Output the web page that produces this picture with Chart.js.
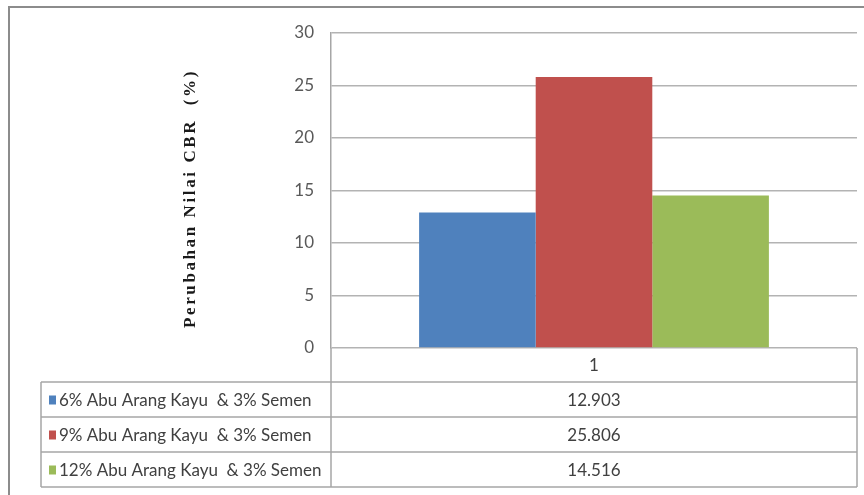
<!DOCTYPE html>
<html>
<head>
<meta charset="utf-8">
<script src="https://cdn.jsdelivr.net/npm/chart.js@4/dist/chart.umd.min.js"></script>
<style>
  html, body { margin: 0; padding: 0; background: #ffffff; }
  canvas { display: block; }
</style>
</head>
<body>
<canvas id="cbr" width="864" height="495"></canvas>
<script>
// Chart values
const categories = ['1'];
const seriesNames = [
  '6% Abu Arang Kayu  & 3% Semen',
  '9% Abu Arang Kayu  & 3% Semen',
  '12% Abu Arang Kayu  & 3% Semen'
];
const abu6 = [12.903];
const abu9 = [25.806];
const abu12 = [14.516];
const seriesColors = ['#4f81bd', '#c0504d', '#9bbb59'];
const yTitle = 'Perubahan Nilai CBR  (%)';

const seriesValues = [abu6, abu9, abu12];
const FONT = 'Lato, "Open Sans", sans-serif';
const LINE = '#a6a6a6';

// Outer frame drawn behind everything
const framePlugin = {
  id: 'frame',
  beforeDraw(chart) {
    const ctx = chart.ctx;
    ctx.save();
    ctx.fillStyle = '#ffffff';
    ctx.fillRect(0, 0, chart.width, chart.height);
    ctx.strokeStyle = '#8c8c8c';
    ctx.lineWidth = 2;
    ctx.beginPath();
    ctx.moveTo(9, chart.height);
    ctx.lineTo(9, 7);
    ctx.lineTo(chart.width, 7);
    ctx.stroke();
    ctx.restore();
  }
};

// Data table under the plot plus the rotated axis title
const tablePlugin = {
  id: 'dataTable',
  afterDraw(chart) {
    const ctx = chart.ctx;
    const area = chart.chartArea;
    const xs = chart.scales.x;
    const tableLeft = 41;
    const headerH = 34;
    const rowH = 35;
    const top = area.bottom;
    const rowsTop = top + headerH;
    const bottom = rowsTop + rowH * seriesNames.length;

    ctx.save();
    ctx.strokeStyle = LINE;
    ctx.lineWidth = 1.5;
    ctx.beginPath();
    // horizontal rules
    for (let i = 0; i <= seriesNames.length; i++) {
      const y = rowsTop + rowH * i;
      ctx.moveTo(tableLeft, y);
      ctx.lineTo(area.right, y);
    }
    // verticals
    ctx.moveTo(tableLeft, rowsTop);
    ctx.lineTo(tableLeft, bottom);
    ctx.moveTo(area.left, top);
    ctx.lineTo(area.left, bottom);
    ctx.moveTo(area.right, top);
    ctx.lineTo(area.right, bottom);
    ctx.stroke();

    ctx.font = '17px ' + FONT;
    ctx.textBaseline = 'middle';
    ctx.fillStyle = '#404040';

    // category header
    categories.forEach((c, ci) => {
      const cx = xs.getPixelForValue(ci);
      ctx.textAlign = 'center';
      ctx.fillText(c, cx, top + headerH / 2 + 1);
      seriesValues.forEach((vals, si) => {
        ctx.fillText(vals[ci].toFixed(3), cx, rowsTop + rowH * si + rowH / 2 + 1);
      });
    });

    // row labels with legend keys
    seriesNames.forEach((name, si) => {
      const cy = rowsTop + rowH * si + rowH / 2;
      ctx.fillStyle = seriesColors[si];
      ctx.fillRect(49, cy - 4, 7, 9);
      ctx.fillStyle = '#404040';
      ctx.textAlign = 'left';
      ctx.fillText(name, 59, cy + 1);
    });

    // rotated y-axis title
    ctx.translate(191, (area.top + area.bottom) / 2 + 8);
    ctx.rotate(-Math.PI / 2);
    ctx.font = 'bold 17px "Liberation Serif", "DejaVu Serif", serif';
    ctx.letterSpacing = '2.6px';
    ctx.fillStyle = '#1a1a1a';
    ctx.textAlign = 'center';
    ctx.fillText(yTitle, 0, 0);
    ctx.restore();
  }
};

new Chart(document.getElementById('cbr'), {
  type: 'bar',
  data: {
    labels: categories,
    datasets: seriesNames.map((name, i) => ({
      label: name,
      data: seriesValues[i],
      backgroundColor: seriesColors[i],
      borderWidth: 0,
      categoryPercentage: 0.665,
      barPercentage: 1.0
    }))
  },
  options: {
    responsive: false,
    devicePixelRatio: 1,
    animation: false,
    layout: { padding: { top: 33, right: 7, bottom: 147, left: 0 } },
    plugins: {
      legend: { display: false },
      tooltip: { enabled: false },
      title: { display: false }
    },
    scales: {
      x: { display: false },
      y: {
        min: 0,
        max: 30,
        ticks: {
          stepSize: 5,
          color: '#595959',
          font: { family: FONT, size: 17 },
          padding: 17
        },
        grid: { color: '#b3b3b3', lineWidth: 1.5, drawTicks: false },
        border: { display: true, color: LINE, width: 1.5 },
        afterFit(scale) { scale.width = 331; }
      }
    }
  },
  plugins: [framePlugin, tablePlugin]
});
</script>
</body>
</html>
